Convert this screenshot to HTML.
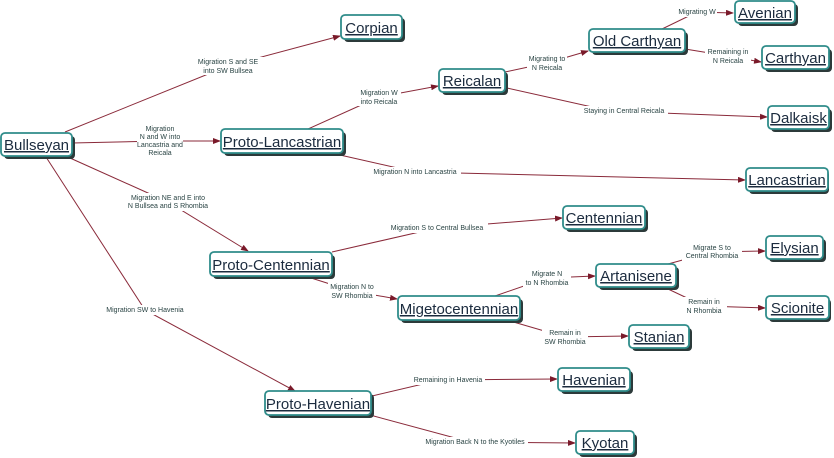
<!DOCTYPE html>
<html><head><meta charset="utf-8"><style>
html,body{margin:0;padding:0;background:#fff;}
svg{display:block;}
.n rect.s{fill:#2c3a3a;}
.n rect.b{fill:#fff;stroke:#2f8c8a;stroke-width:1.8;}
.n text{font-family:"Liberation Sans",sans-serif;font-size:15px;fill:#1b2b3e;text-anchor:middle;text-decoration:underline;}
.e{fill:none;stroke:#8a2a3a;stroke-width:1;}
.l{font-family:"Liberation Sans",sans-serif;font-size:7px;fill:#2a4444;text-anchor:middle;}
</style></head><body>
<svg width="834" height="458" viewBox="0 0 834 458" xmlns="http://www.w3.org/2000/svg">
<defs><marker id="a" markerWidth="8" markerHeight="6" refX="7" refY="3" orient="auto" markerUnits="userSpaceOnUse"><path d="M0,0 L8,3 L0,6 z" fill="#7a1a2a"/></marker></defs>
<g>
<polyline class="e" marker-end="url(#a)" points="65,132 228,66 340,36"/>
<polyline class="e" marker-end="url(#a)" points="72,143 160,141 220,141"/>
<polyline class="e" marker-end="url(#a)" points="308,129 379,97 438,86"/>
<polyline class="e" marker-end="url(#a)" points="340,155 415,172 745,180"/>
<polyline class="e" marker-end="url(#a)" points="70,158 168,202 248,251"/>
<polyline class="e" marker-end="url(#a)" points="46,157 145,310 295,391"/>
<polyline class="e" marker-end="url(#a)" points="505,72 547,63 588,51"/>
<polyline class="e" marker-end="url(#a)" points="507,88 610,111 767,117"/>
<polyline class="e" marker-end="url(#a)" points="662,29 697,12 733,13"/>
<polyline class="e" marker-end="url(#a)" points="685,49 728,56 761,62"/>
<polyline class="e" marker-end="url(#a)" points="332,252 437,228 562,218"/>
<polyline class="e" marker-end="url(#a)" points="308,277 352,291 397,299"/>
<polyline class="e" marker-end="url(#a)" points="495,296 547,278 595,276"/>
<polyline class="e" marker-end="url(#a)" points="510,321 565,337 628,336"/>
<polyline class="e" marker-end="url(#a)" points="668,264 712,252 765,251"/>
<polyline class="e" marker-end="url(#a)" points="668,289 704,306 765,308"/>
<polyline class="e" marker-end="url(#a)" points="372,396 440,380 557,379"/>
<polyline class="e" marker-end="url(#a)" points="370,415 470,442 575,443"/>
</g>
<g fill="#fff">
<rect x="188" y="57" width="80" height="18"/>
<rect x="137" y="124" width="46" height="34"/>
<rect x="357" y="88" width="44" height="18"/>
<rect x="369" y="167" width="92" height="10"/>
<rect x="125" y="193" width="86" height="18"/>
<rect x="104" y="305" width="82" height="10"/>
<rect x="527" y="54" width="40" height="18"/>
<rect x="580" y="106" width="88" height="10"/>
<rect x="677" y="7" width="40" height="10"/>
<rect x="705" y="47" width="46" height="18"/>
<rect x="388" y="223" width="100" height="10"/>
<rect x="328" y="282" width="48" height="18"/>
<rect x="523" y="269" width="48" height="18"/>
<rect x="542" y="328" width="46" height="18"/>
<rect x="682" y="243" width="60" height="18"/>
<rect x="681" y="297" width="46" height="18"/>
<rect x="411" y="375" width="74" height="10"/>
<rect x="422" y="437" width="106" height="10"/>
</g>
<g class="l">
<text x="228" y="64">Migration S and SE</text><text x="228" y="73">into SW Bullsea</text>
<text x="160" y="131">Migration</text><text x="160" y="139">N and W into</text><text x="160" y="147">Lancastria and</text><text x="160" y="155">Reicala</text>
<text x="379" y="95">Migration W</text><text x="379" y="104">into Reicala</text>
<text x="415" y="174">Migration N into Lancastria</text>
<text x="168" y="200">Migration NE and E into</text><text x="168" y="208">N Bullsea and S Rhombia</text>
<text x="145" y="312">Migration SW to Havenia</text>
<text x="547" y="61">Migrating to</text><text x="547" y="70">N Reicala</text>
<text x="624" y="113">Staying in Central Reicala</text>
<text x="697" y="14">Migrating W</text>
<text x="728" y="54">Remaining in</text><text x="728" y="63">N Reicala</text>
<text x="437" y="230">Migration S to Central Bullsea</text>
<text x="352" y="289">Migration N to</text><text x="352" y="298">SW Rhombia</text>
<text x="547" y="276">Migrate N</text><text x="547" y="285">to N Rhombia</text>
<text x="565" y="335">Remain in</text><text x="565" y="344">SW Rhombia</text>
<text x="712" y="250">Migrate S to</text><text x="712" y="258">Central Rhombia</text>
<text x="704" y="304">Remain in</text><text x="704" y="313">N Rhombia</text>
<text x="448" y="382">Remaining in Havenia</text>
<text x="475" y="444">Migration Back N to the Kyotiles</text>
</g>
<g class="n">
<g><rect class="s" x="344" y="18" width="61" height="24" rx="4"/><rect class="b" x="341" y="15" width="61" height="24" rx="4"/><text x="371.5" y="33">Corpian</text></g>
<g><rect class="s" x="4" y="136" width="71" height="23" rx="4"/><rect class="b" x="1" y="133" width="71" height="23" rx="4"/><text x="36.5" y="150">Bullseyan</text></g>
<g><rect class="s" x="224" y="132" width="122" height="24" rx="4"/><rect class="b" x="221" y="129" width="122" height="24" rx="4"/><text x="282" y="147">Proto-Lancastrian</text></g>
<g><rect class="s" x="442" y="72" width="66" height="23" rx="4"/><rect class="b" x="439" y="69" width="66" height="23" rx="4"/><text x="472" y="86">Reicalan</text></g>
<g><rect class="s" x="592" y="32" width="96" height="23" rx="4"/><rect class="b" x="589" y="29" width="96" height="23" rx="4"/><text x="637" y="46">Old Carthyan</text></g>
<g><rect class="s" x="738" y="4" width="60" height="22" rx="4"/><rect class="b" x="735" y="1" width="60" height="22" rx="4"/><text x="765" y="18">Avenian</text></g>
<g><rect class="s" x="765" y="49" width="67" height="23" rx="4"/><rect class="b" x="762" y="46" width="67" height="23" rx="4"/><text x="795.5" y="63">Carthyan</text></g>
<g><rect class="s" x="771" y="109" width="61" height="23" rx="4"/><rect class="b" x="768" y="106" width="61" height="23" rx="4"/><text x="798.5" y="123">Dalkaisk</text></g>
<g><rect class="s" x="749" y="171" width="80" height="23" rx="4"/><rect class="b" x="746" y="168" width="82" height="23" rx="4"/><text x="787" y="185">Lancastrian</text></g>
<g><rect class="s" x="566" y="209" width="82" height="23" rx="4"/><rect class="b" x="563" y="206" width="82" height="23" rx="4"/><text x="604" y="223">Centennian</text></g>
<g><rect class="s" x="213" y="255" width="122" height="24" rx="4"/><rect class="b" x="210" y="252" width="122" height="24" rx="4"/><text x="271" y="270">Proto-Centennian</text></g>
<g><rect class="s" x="599" y="267" width="80" height="23" rx="4"/><rect class="b" x="596" y="264" width="80" height="23" rx="4"/><text x="636" y="281">Artanisene</text></g>
<g><rect class="s" x="769" y="239" width="57" height="23" rx="4"/><rect class="b" x="766" y="236" width="57" height="23" rx="4"/><text x="794.5" y="253">Elysian</text></g>
<g><rect class="s" x="401" y="299" width="122" height="24" rx="4"/><rect class="b" x="398" y="296" width="122" height="24" rx="4"/><text x="459" y="314">Migetocentennian</text></g>
<g><rect class="s" x="769" y="299" width="62" height="23" rx="4"/><rect class="b" x="766" y="296" width="63" height="23" rx="4"/><text x="797.5" y="313">Scionite</text></g>
<g><rect class="s" x="632" y="328" width="60" height="23" rx="4"/><rect class="b" x="629" y="325" width="60" height="23" rx="4"/><text x="659" y="342">Stanian</text></g>
<g><rect class="s" x="561" y="371" width="72" height="23" rx="4"/><rect class="b" x="558" y="368" width="72" height="23" rx="4"/><text x="594" y="385">Havenian</text></g>
<g><rect class="s" x="268" y="394" width="106" height="24" rx="4"/><rect class="b" x="265" y="391" width="106" height="24" rx="4"/><text x="318" y="409">Proto-Havenian</text></g>
<g><rect class="s" x="579" y="434" width="58" height="23" rx="4"/><rect class="b" x="576" y="431" width="58" height="23" rx="4"/><text x="605" y="448">Kyotan</text></g>
</g>
</svg>
</body></html>
